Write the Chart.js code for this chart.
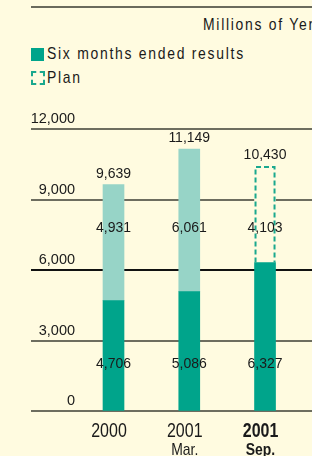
<!DOCTYPE html>
<html>
<head>
<meta charset="utf-8">
<script src="https://cdn.jsdelivr.net/npm/chart.js@4.4.0/dist/chart.umd.min.js"></script>
<style>
  html, body { margin: 0; padding: 0; }
  body {
    width: 312px; height: 456px; overflow: hidden; position: relative;
    background: #fffbe0; color: #1a1a1a;
    font-family: "Liberation Sans", Arial, sans-serif;
  }
  .regla { position: absolute; left: 31px; top: 6px; width: 281px; height: 2px; background: #6a6a5c; }
  /* texto condensado: Liberation Sans comprimida horizontalmente */
  .texto {
    position: absolute; font-size: 17px; line-height: 20px; letter-spacing: 2.1px; white-space: nowrap;
    transform: scaleX(0.82); transform-origin: 0 0;
  }
  .caja { position: absolute; box-sizing: border-box; }
  canvas { position: absolute; left: 0; top: 0; }
</style>
</head>
<body>
<div class="regla"></div>
<div class="texto" style="left:203px; top:15px;">Millions of Yen</div>
<div class="caja" style="left:31px; top:48px; width:13px; height:13px; background:#00a48b;"></div>
<div class="texto" style="left:47px; top:44px;">Six months ended results</div>
<div class="caja" style="left:31px; top:71px; width:14px; height:14px; border:2px dashed #1aa88e;"></div>
<div class="texto" style="left:47px; top:68px;">Plan</div>
<canvas id="grafico" width="312" height="456"></canvas>
<script>
// Datos del grafico
const categorias = ["2000", "2001", "2001"];
const meses = ["", "Mar.", "Sep."];
const primerSemestre = [4706, 5086, 6327];
const segundoSemestre = [4931, 6061, null];
const planRestante = [null, null, 4103];
const totales = [9639, 11149, 10430];

const OSCURO = "#00a48b";
const CLARO = "#97d4c7";
const FONDO = "#fffbe0";
const FUENTE = '"Liberation Sans", Arial, sans-serif';

const fmt = v => v.toLocaleString("en-US");

// Convertir a puntos {x, y} para el eje lineal
const puntos = serie => serie
  .map((v, i) => (v === null ? null : { x: i, y: v }))
  .filter(p => p !== null);

// Texto condensado centrado en x
function textoEstrecho(ctx, texto, x, y, fuente) {
  ctx.save();
  ctx.font = fuente;
  ctx.translate(x, y);
  ctx.scale(0.82, 1);
  ctx.fillText(texto, 0, 0);
  ctx.restore();
}

// Etiquetas de valores, contorno punteado del plan y etiquetas del eje x
const etiquetasPlugin = {
  id: "etiquetas",
  afterDatasetsDraw(chart) {
    const ctx = chart.ctx;
    const escalaY = chart.scales.y;
    const escalaX = chart.scales.x;
    ctx.save();

    chart.getDatasetMeta(2).data.forEach(barra => {
      const { x, y, base, width } = barra.getProps(["x", "y", "base", "width"], true);
      const izq = x - width / 2 + 1;
      const der = x + width / 2 - 1;
      ctx.beginPath();
      ctx.setLineDash([5, 3]);
      ctx.lineWidth = 2;
      ctx.strokeStyle = "#1aa88e";
      ctx.moveTo(izq, base);
      ctx.lineTo(izq, y + 1);
      ctx.lineTo(der, y + 1);
      ctx.lineTo(der, base);
      ctx.stroke();
    });
    ctx.setLineDash([]);

    ctx.font = "14px " + FUENTE;
    ctx.fillStyle = "#1a1a1a";
    ctx.textAlign = "center";
    ctx.textBaseline = "middle";
    chart.getDatasetMeta(0).data.forEach((barra, i) => {
      const x = barra.x;
      const superior = segundoSemestre[i] !== null ? segundoSemestre[i] : planRestante[i];
      ctx.fillText(fmt(totales[i]), x, escalaY.getPixelForValue(totales[i]) - 10.5);
      ctx.fillText(fmt(superior), x, escalaY.getPixelForValue(7800));
      ctx.fillText(fmt(primerSemestre[i]), x, escalaY.getPixelForValue(2000));
    });

    // Etiquetas de categoria (ano y mes)
    ctx.textBaseline = "alphabetic";
    categorias.forEach((cat, i) => {
      const x = escalaX.getPixelForValue(i) - 4.5;
      const peso = i === 2 ? "bold " : "";
      textoEstrecho(ctx, cat, x, escalaX.top + 25.7, peso + "19.5px " + FUENTE);
      if (meses[i]) {
        textoEstrecho(ctx, meses[i], x, escalaX.top + 43.4, peso + "17px " + FUENTE);
      }
    });
    ctx.restore();
  }
};

new Chart(document.getElementById("grafico"), {
  type: "bar",
  data: {
    datasets: [
      { label: "Six months ended results", data: puntos(primerSemestre), backgroundColor: OSCURO },
      { label: "Second half", data: puntos(segundoSemestre), backgroundColor: CLARO },
      { label: "Plan", data: puntos(planRestante), backgroundColor: FONDO }
    ]
  },
  options: {
    responsive: false,
    animation: false,
    layout: { padding: { left: 31, right: 0, top: 129, bottom: 4.7 } },
    plugins: { legend: { display: false }, tooltip: { enabled: false } },
    datasets: { bar: { barThickness: 21 } },
    scales: {
      x: {
        type: "linear",
        min: -1.089,
        max: 2.62,
        offset: false,
        stacked: true,
        grid: { display: false, drawTicks: false, offset: false },
        border: { display: false },
        ticks: { display: false },
        afterFit: escala => { escala.height = 40; }
      },
      y: {
        min: 0,
        max: 12000,
        stacked: true,
        border: { display: false },
        grid: {
          drawTicks: false,
          lineWidth: 2,
          color: c => (c.tick && c.tick.value === 6000 ? "#111111" : "#6d6d5f")
        },
        afterFit: escala => { escala.width = 0; },
        ticks: {
          stepSize: 3000,
          mirror: true,
          crossAlign: "far",
          padding: -0.3,
          labelOffset: -10,
          color: "#1a1a1a",
          font: { family: FUENTE, size: 14.5 },
          callback: v => fmt(v)
        }
      }
    }
  },
  plugins: [etiquetasPlugin]
});
</script>
</body>
</html>
